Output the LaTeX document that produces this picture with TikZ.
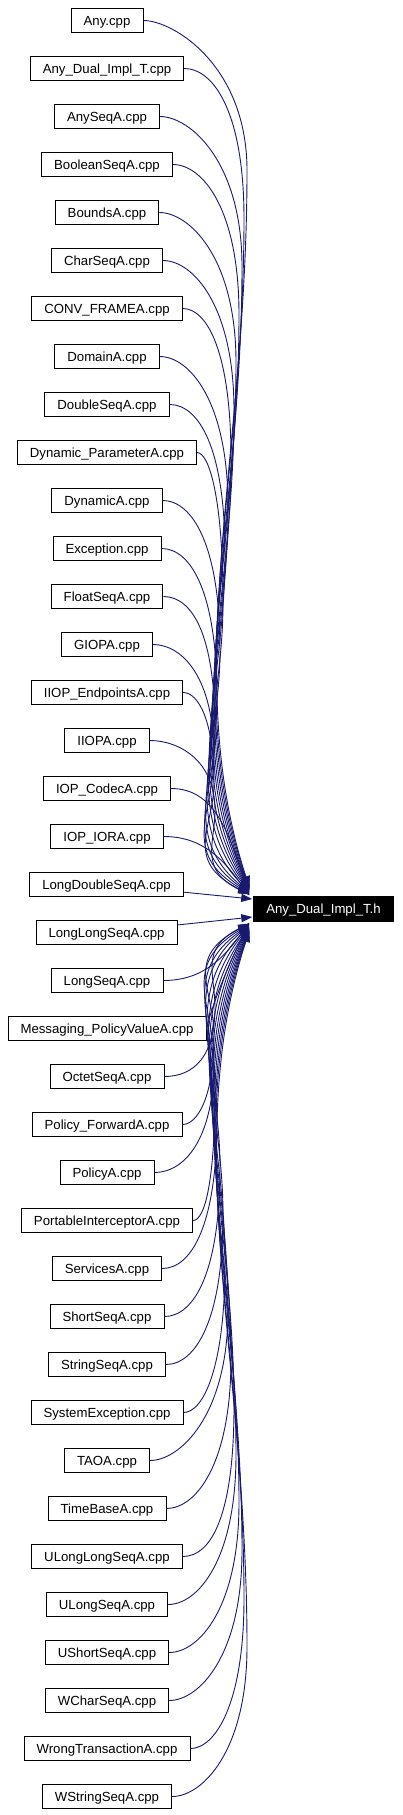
\documentclass[tikz,border=0pt]{standalone}
\usepackage{fontspec}
\setmainfont{Liberation Sans}
\usetikzlibrary{arrows.meta}
\definecolor{edgeblue}{RGB}{25,25,112}
\begin{document}
\begin{tikzpicture}[x=1pt,y=-1pt,font=\fontsize{13.2}{15}\selectfont,
  file/.style={draw=black,line width=0.8pt,fill=white,inner xsep=12.6pt,inner ysep=0pt,minimum height=24.5pt,text height=9.4pt,text depth=0pt},
  hdr/.style={file,fill=black,text=white},
  dep/.style={draw=edgeblue,line width=0.9pt,-{Triangle[length=11pt,width=8pt]}}]
\useasboundingbox (0,0) rectangle (402,1815);
\node[hdr] (anydualh) at (323.5,909) {Any\_Dual\_Impl\_T.h};
\node[file] (any) at (107,20.5) {Any.cpp};
\node[file] (anydualcpp) at (107,68.5) {Any\_Dual\_Impl\_T.cpp};
\node[file] (anyseq) at (107,116.5) {AnySeqA.cpp};
\node[file] (booleanseq) at (107,164.5) {BooleanSeqA.cpp};
\node[file] (bounds) at (107,212.5) {BoundsA.cpp};
\node[file] (charseq) at (107,260.5) {CharSeqA.cpp};
\node[file] (convframe) at (107,308.5) {CONV\_FRAMEA.cpp};
\node[file] (domain) at (107,356.5) {DomainA.cpp};
\node[file] (doubleseq) at (107,404.5) {DoubleSeqA.cpp};
\node[file] (dynparam) at (107,452.5) {Dynamic\_ParameterA.cpp};
\node[file] (dynamic) at (107,500.5) {DynamicA.cpp};
\node[file] (exception) at (107,548.5) {Exception.cpp};
\node[file] (floatseq) at (107,596.5) {FloatSeqA.cpp};
\node[file] (giop) at (107,644.5) {GIOPA.cpp};
\node[file] (iiopendpoints) at (107,692.5) {IIOP\_EndpointsA.cpp};
\node[file] (iiop) at (107,740.5) {IIOPA.cpp};
\node[file] (iopcodec) at (107,788.5) {IOP\_CodecA.cpp};
\node[file] (iopior) at (107,836.5) {IOP\_IORA.cpp};
\node[file] (longdoubleseq) at (106.5,884.5) {LongDoubleSeqA.cpp};
\node[file] (longlongseq) at (106.5,932.5) {LongLongSeqA.cpp};
\node[file] (longseq) at (107,980.5) {LongSeqA.cpp};
\node[file] (msgpolicy) at (107,1028.5) {Messaging\_PolicyValueA.cpp};
\node[file] (octetseq) at (107,1076.5) {OctetSeqA.cpp};
\node[file] (policyfwd) at (107,1124.5) {Policy\_ForwardA.cpp};
\node[file] (policy) at (107,1172.5) {PolicyA.cpp};
\node[file] (portableic) at (107,1220.5) {PortableInterceptorA.cpp};
\node[file] (services) at (107,1268.5) {ServicesA.cpp};
\node[file] (shortseq) at (107,1316.5) {ShortSeqA.cpp};
\node[file] (stringseq) at (107,1364.5) {StringSeqA.cpp};
\node[file] (sysexception) at (107,1412.5) {SystemException.cpp};
\node[file] (taoa) at (107,1460.5) {TAOA.cpp};
\node[file] (timebase) at (107,1508.5) {TimeBaseA.cpp};
\node[file] (ulonglongseq) at (107,1556.5) {ULongLongSeqA.cpp};
\node[file] (ulongseq) at (107,1604.5) {ULongSeqA.cpp};
\node[file] (ushortseq) at (107,1652.5) {UShortSeqA.cpp};
\node[file] (wcharseq) at (107,1700.5) {WCharSeqA.cpp};
\node[file] (wrongtrans) at (107,1748.5) {WrongTransactionA.cpp};
\node[file] (wstringseq) at (107,1796.5) {WStringSeqA.cpp};
\draw[dep] (any.east) .. controls +(30,0) and +(0,-105) .. (247,170.5) .. controls +(0,287) and +(-70,-215) .. ([xshift=-4pt,yshift=22pt]anydualh.west);
\draw[dep] (anydualcpp.east) .. controls +(30,0) and +(0,-105) .. (244,218.5) .. controls +(0,268) and +(-70,-201) .. ([xshift=-4pt,yshift=21.5pt]anydualh.west);
\draw[dep] (anyseq.east) .. controls +(30,0) and +(0,-105) .. (242,266.5) .. controls +(0,249) and +(-70,-186) .. ([xshift=-4pt,yshift=21pt]anydualh.west);
\draw[dep] (booleanseq.east) .. controls +(30,0) and +(0,-105) .. (239,314.5) .. controls +(0,230) and +(-70,-172) .. ([xshift=-4pt,yshift=20.5pt]anydualh.west);
\draw[dep] (bounds.east) .. controls +(30,0) and +(0,-105) .. (236,362.5) .. controls +(0,211) and +(-70,-158) .. ([xshift=-4pt,yshift=20pt]anydualh.west);
\draw[dep] (charseq.east) .. controls +(30,0) and +(0,-105) .. (234,410.5) .. controls +(0,192) and +(-70,-144) .. ([xshift=-4pt,yshift=19.5pt]anydualh.west);
\draw[dep] (convframe.east) .. controls +(25,0) and +(0,-105) .. (231,458.5) .. controls +(0,173) and +(-70,-129) .. ([xshift=-4pt,yshift=19pt]anydualh.west);
\draw[dep] (domain.east) .. controls +(30,0) and +(0,-105) .. (228,506.5) .. controls +(0,154) and +(-70,-115) .. ([xshift=-4pt,yshift=18.5pt]anydualh.west);
\draw[dep] (doubleseq.east) .. controls +(30,0) and +(0,-105) .. (225,554.5) .. controls +(0,135) and +(-70,-101) .. ([xshift=-4pt,yshift=18pt]anydualh.west);
\draw[dep] (dynparam.east) .. controls +(12,0) and +(0,-105) .. (223,602.5) .. controls +(0,116) and +(-70,-87) .. ([xshift=-4pt,yshift=17.5pt]anydualh.west);
\draw[dep] (dynamic.east) .. controls +(30,0) and +(0,-105) .. (220,650.5) .. controls +(0,97) and +(-70,-72) .. ([xshift=-4pt,yshift=17pt]anydualh.west);
\draw[dep] (exception.east) .. controls +(30,0) and +(0,-105) .. (217,698.5) .. controls +(0,78) and +(-70,-58) .. ([xshift=-4pt,yshift=16.5pt]anydualh.west);
\draw[dep] (floatseq.east) .. controls +(30,0) and +(0,-93) .. (215,730) .. controls +(0,65) and +(-70,-49) .. ([xshift=-4pt,yshift=16pt]anydualh.west);
\draw[dep] (giop.east) .. controls +(30,0) and +(0,-78) .. (214,756.5) .. controls +(0,55) and +(-70,-41) .. ([xshift=-4pt,yshift=15.5pt]anydualh.west);
\draw[dep] (iiopendpoints.east) .. controls +(15,0) and +(0,-63) .. (214,783) .. controls +(0,44) and +(-67,-33) .. ([xshift=-4pt,yshift=15pt]anydualh.west);
\draw[dep] (iiop.east) .. controls +(30,0) and +(0,-49) .. (215,810) .. controls +(0,34) and +(-51,-25) .. ([xshift=-4pt,yshift=14.5pt]anydualh.west);
\draw[dep] (iopcodec.east) .. controls +(45,0) and +(-20,-60) .. ([xshift=-4pt,yshift=14pt]anydualh.west);
\draw[dep] (iopior.east) .. controls +(40,0) and +(-25,-35) .. ([xshift=-4pt,yshift=13.5pt]anydualh.west);
\draw[dep] (longdoubleseq) -- ([xshift=-1pt,yshift=10pt]anydualh.west);
\draw[dep] (longlongseq) -- ([xshift=-1pt,yshift=-8pt]anydualh.west);
\draw[dep] (longseq.east) .. controls +(40,0) and +(-25,35) .. ([xshift=-4pt,yshift=-13.5pt]anydualh.west);
\draw[dep] (msgpolicy.east) .. controls +(5,-20) and +(-25,50) .. ([xshift=-4pt,yshift=-14pt]anydualh.west);
\draw[dep] (octetseq.east) .. controls +(30,0) and +(0,48) .. (215,1007.5) .. controls +(0,-34) and +(-50,25) .. ([xshift=-4pt,yshift=-14.5pt]anydualh.west);
\draw[dep] (policyfwd.east) .. controls +(15,0) and +(0,63) .. (214,1034.5) .. controls +(0,-44) and +(-66,33) .. ([xshift=-4pt,yshift=-15pt]anydualh.west);
\draw[dep] (policy.east) .. controls +(30,0) and +(0,78) .. (214,1061) .. controls +(0,-55) and +(-70,41) .. ([xshift=-4pt,yshift=-15.5pt]anydualh.west);
\draw[dep] (portableic.east) .. controls +(12,0) and +(0,93) .. (215,1087.5) .. controls +(0,-65) and +(-70,49) .. ([xshift=-4pt,yshift=-16pt]anydualh.west);
\draw[dep] (services.east) .. controls +(30,0) and +(0,105) .. (217,1118.5) .. controls +(0,-77) and +(-70,58) .. ([xshift=-4pt,yshift=-16.5pt]anydualh.west);
\draw[dep] (shortseq.east) .. controls +(30,0) and +(0,105) .. (220,1166.5) .. controls +(0,-96) and +(-70,72) .. ([xshift=-4pt,yshift=-17pt]anydualh.west);
\draw[dep] (stringseq.east) .. controls +(30,0) and +(0,105) .. (223,1214.5) .. controls +(0,-115) and +(-70,86) .. ([xshift=-4pt,yshift=-17.5pt]anydualh.west);
\draw[dep] (sysexception.east) .. controls +(20,0) and +(0,105) .. (225,1262.5) .. controls +(0,-134) and +(-70,101) .. ([xshift=-4pt,yshift=-18pt]anydualh.west);
\draw[dep] (taoa.east) .. controls +(30,0) and +(0,105) .. (228,1310.5) .. controls +(0,-153) and +(-70,115) .. ([xshift=-4pt,yshift=-18.5pt]anydualh.west);
\draw[dep] (timebase.east) .. controls +(30,0) and +(0,105) .. (231,1358.5) .. controls +(0,-172) and +(-70,129) .. ([xshift=-4pt,yshift=-19pt]anydualh.west);
\draw[dep] (ulonglongseq.east) .. controls +(30,0) and +(0,105) .. (234,1406.5) .. controls +(0,-191) and +(-70,143) .. ([xshift=-4pt,yshift=-19.5pt]anydualh.west);
\draw[dep] (ulongseq.east) .. controls +(30,0) and +(0,105) .. (236,1454.5) .. controls +(0,-210) and +(-70,158) .. ([xshift=-4pt,yshift=-20pt]anydualh.west);
\draw[dep] (ushortseq.east) .. controls +(30,0) and +(0,105) .. (239,1502.5) .. controls +(0,-229) and +(-70,172) .. ([xshift=-4pt,yshift=-20.5pt]anydualh.west);
\draw[dep] (wcharseq.east) .. controls +(30,0) and +(0,105) .. (242,1550.5) .. controls +(0,-248) and +(-70,186) .. ([xshift=-4pt,yshift=-21pt]anydualh.west);
\draw[dep] (wrongtrans.east) .. controls +(25,0) and +(0,105) .. (244,1598.5) .. controls +(0,-267) and +(-70,200) .. ([xshift=-4pt,yshift=-21.5pt]anydualh.west);
\draw[dep] (wstringseq.east) .. controls +(30,0) and +(0,105) .. (247,1646.5) .. controls +(0,-286) and +(-70,215) .. ([xshift=-4pt,yshift=-22pt]anydualh.west);
\end{tikzpicture}
\end{document}
